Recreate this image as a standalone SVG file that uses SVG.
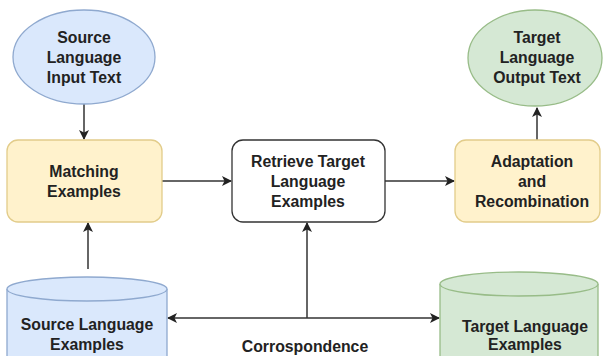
<svg xmlns="http://www.w3.org/2000/svg" width="605" height="356" viewBox="0 0 605 356">
  <defs>
    <marker id="arrow" viewBox="0 0 10 10" refX="9" refY="5" markerWidth="10" markerHeight="10" markerUnits="userSpaceOnUse" orient="auto">
      <path d="M0,0 L10,5 L0,10 L2.5,5 Z" fill="#222"/>
    </marker>
    <style>
      text { font-family: "Liberation Sans", Arial, sans-serif; font-weight: bold; font-size: 15.8px; fill: #222; text-anchor: middle; }
      .blue { fill: #dae8fc; stroke: #8fa9cf; stroke-width: 1.3; }
      .green { fill: #d5e8d4; stroke: #98bc88; stroke-width: 1.3; }
      .yellow { fill: #fff2cc; stroke: #e2cc8a; stroke-width: 1.3; }
      .plain { fill: #ffffff; stroke: #333; stroke-width: 1.3; }
      .edge { fill: none; stroke: #333; stroke-width: 1.5; marker-end: url(#arrow); }
    </style>
  </defs>
  <rect width="605" height="356" fill="#ffffff"/>

  <g id="connectors">
    <line class="edge" x1="84" y1="103" x2="84" y2="139"/>
    <line class="edge" x1="88" y1="269" x2="88" y2="223"/>
    <line class="edge" x1="162" y1="181" x2="231" y2="181"/>
    <line class="edge" x1="385" y1="181" x2="454" y2="181"/>
    <line class="edge" x1="537" y1="140" x2="537" y2="108"/>
    <line class="edge" x1="307" y1="318" x2="307" y2="223"/>
    <line class="edge" x1="307" y1="318" x2="168" y2="318"/>
    <line class="edge" x1="307" y1="318" x2="439" y2="318"/>
  </g>

  <g id="source-input">
    <ellipse class="blue" cx="84" cy="57" rx="71" ry="47"/>
    <text x="84" y="43">Source</text>
    <text x="84" y="63">Language</text>
    <text x="84" y="83">Input Text</text>
  </g>

  <g id="target-output">
    <ellipse class="green" cx="535" cy="58" rx="67" ry="48"/>
    <text x="537" y="43">Target</text>
    <text x="537" y="63">Language</text>
    <text x="537" y="83">Output Text</text>
  </g>

  <g id="matching">
    <rect class="yellow" x="7" y="140" width="155" height="82" rx="11"/>
    <text x="84" y="177">Matching</text>
    <text x="84" y="197">Examples</text>
  </g>

  <g id="retrieve">
    <rect class="plain" x="232" y="140" width="153" height="82" rx="11"/>
    <text x="308" y="167">Retrieve Target</text>
    <text x="308" y="187">Language</text>
    <text x="308" y="207">Examples</text>
  </g>

  <g id="adaptation">
    <rect class="yellow" x="455" y="140" width="145" height="82" rx="11"/>
    <text x="532" y="167">Adaptation</text>
    <text x="532" y="187">and</text>
    <text x="532" y="207">Recombination</text>
  </g>

  <g id="source-examples">
    <path class="blue" d="M7,289 A80,12 0 0 1 167,289 L167,370 L7,370 Z"/>
    <path class="blue" d="M7,289 A80,12 0 0 0 167,289" fill="none"/>
    <text x="87" y="330">Source Language</text>
    <text x="87" y="350">Examples</text>
  </g>

  <g id="target-examples">
    <path class="green" d="M440,284 A79,12 0 0 1 598,284 L598,370 L440,370 Z"/>
    <path class="green" d="M440,284 A79,12 0 0 0 598,284" fill="none"/>
    <text x="525" y="332">Target Language</text>
    <text x="525" y="350">Examples</text>
  </g>

  <text x="305" y="352">Corrospondence</text>
</svg>
